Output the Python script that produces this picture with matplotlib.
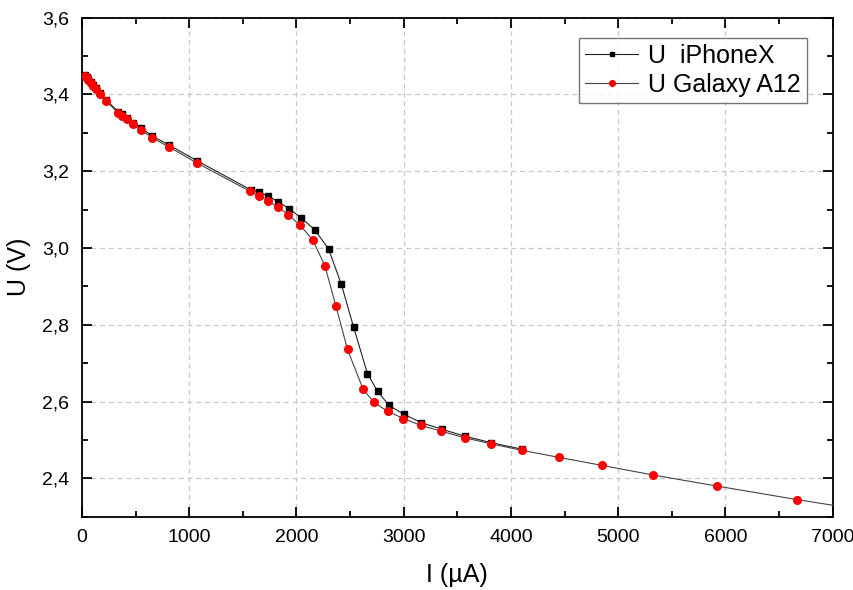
import matplotlib
matplotlib.use("Agg")
import matplotlib.pyplot as plt
from matplotlib.ticker import MultipleLocator, FuncFormatter

plt.rcParams['font.family'] = ['Liberation Sans', 'DejaVu Sans']

# iPhoneX series
I_iphone = [28, 45, 60, 80, 100, 130, 168, 224, 339, 370, 416, 472, 550, 655, 814, 1069,
            1572, 1652, 1736, 1830, 1932, 2044, 2172, 2299, 2417, 2532, 2662, 2756, 2864,
            3004, 3166, 3358, 3569, 3818, 4107]
U_iphone = [3.451, 3.446, 3.440, 3.433, 3.426, 3.418, 3.403, 3.386, 3.355, 3.349, 3.339, 3.327,
            3.313, 3.292, 3.268, 3.228,
            3.152, 3.146, 3.135, 3.121, 3.102, 3.079, 3.047, 2.998, 2.907, 2.795, 2.673, 2.627,
            2.590, 2.567, 2.545, 2.528, 2.510, 2.493, 2.476]

# Galaxy A12 series
I_galaxy = [28, 45, 60, 80, 100, 130, 168, 224, 339, 370, 416, 472, 550, 655, 814, 1069,
            1566, 1647, 1731, 1824, 1923, 2032, 2150, 2265, 2367, 2476, 2622, 2724, 2849,
            2998, 3162, 3352, 3567, 3818, 4107, 4445, 4849, 5325, 5924, 6666, 7300]
U_galaxy = [3.449, 3.443, 3.437, 3.430, 3.423, 3.415, 3.400, 3.383, 3.352, 3.345, 3.335, 3.322,
            3.308, 3.287, 3.263, 3.222,
            3.148, 3.136, 3.123, 3.107, 3.087, 3.060, 3.022, 2.954, 2.850, 2.736, 2.632, 2.598,
            2.575, 2.556, 2.538, 2.523, 2.506, 2.490, 2.473, 2.455, 2.434, 2.409, 2.380, 2.345,
            2.317]

fig = plt.figure(figsize=(8.54, 5.90), dpi=100)
ax = fig.add_axes([0.096, 0.124, 0.879, 0.846])

ax.plot(I_iphone, U_iphone, color='#222222', lw=0.8, marker='s', ms=4.7,
        mfc='black', mec='black', label='U  iPhoneX', zorder=3)
ax.plot(I_galaxy, U_galaxy, color='#444444', lw=0.8, marker='o', ms=5.5,
        mfc='#ff0000', mec='#ff0000', label='U Galaxy A12', zorder=4)

ax.set_xlim(0, 7000)
ax.set_ylim(2.3, 3.6)
ax.xaxis.set_major_locator(MultipleLocator(1000))
ax.xaxis.set_minor_locator(MultipleLocator(500))
ax.yaxis.set_major_locator(MultipleLocator(0.2))
ax.yaxis.set_minor_locator(MultipleLocator(0.1))
ax.yaxis.set_major_formatter(FuncFormatter(lambda v, p: f"{v:.1f}".replace('.', ',')))
ax.xaxis.set_major_formatter(FuncFormatter(lambda v, p: f"{int(round(v))}"))

ax.tick_params(which='both', direction='in', top=True, right=True, width=1.3)
ax.tick_params(which='major', length=7, labelsize=14, pad=9)
ax.tick_params(which='minor', length=4)
for s in ax.spines.values():
    s.set_linewidth(1.3)

ax.grid(True, which='major', color='#c8c8c8', ls=(0, (4, 3)), lw=0.9)
ax.set_axisbelow(True)

ax.set_xlabel('I (µA)', fontsize=18, labelpad=12)
ax.set_ylabel('U (V)', fontsize=18, labelpad=8)

leg = ax.legend(loc='upper right', bbox_to_anchor=(0.982, 0.985), fontsize=18,
                fancybox=False, frameon=True, edgecolor='#555555', markerscale=0.75,
                handlelength=2.1, handletextpad=0.4, borderpad=0.25, labelspacing=0.2)
leg.get_frame().set_linewidth(1.0)

fig.savefig('out.png', dpi=100)
